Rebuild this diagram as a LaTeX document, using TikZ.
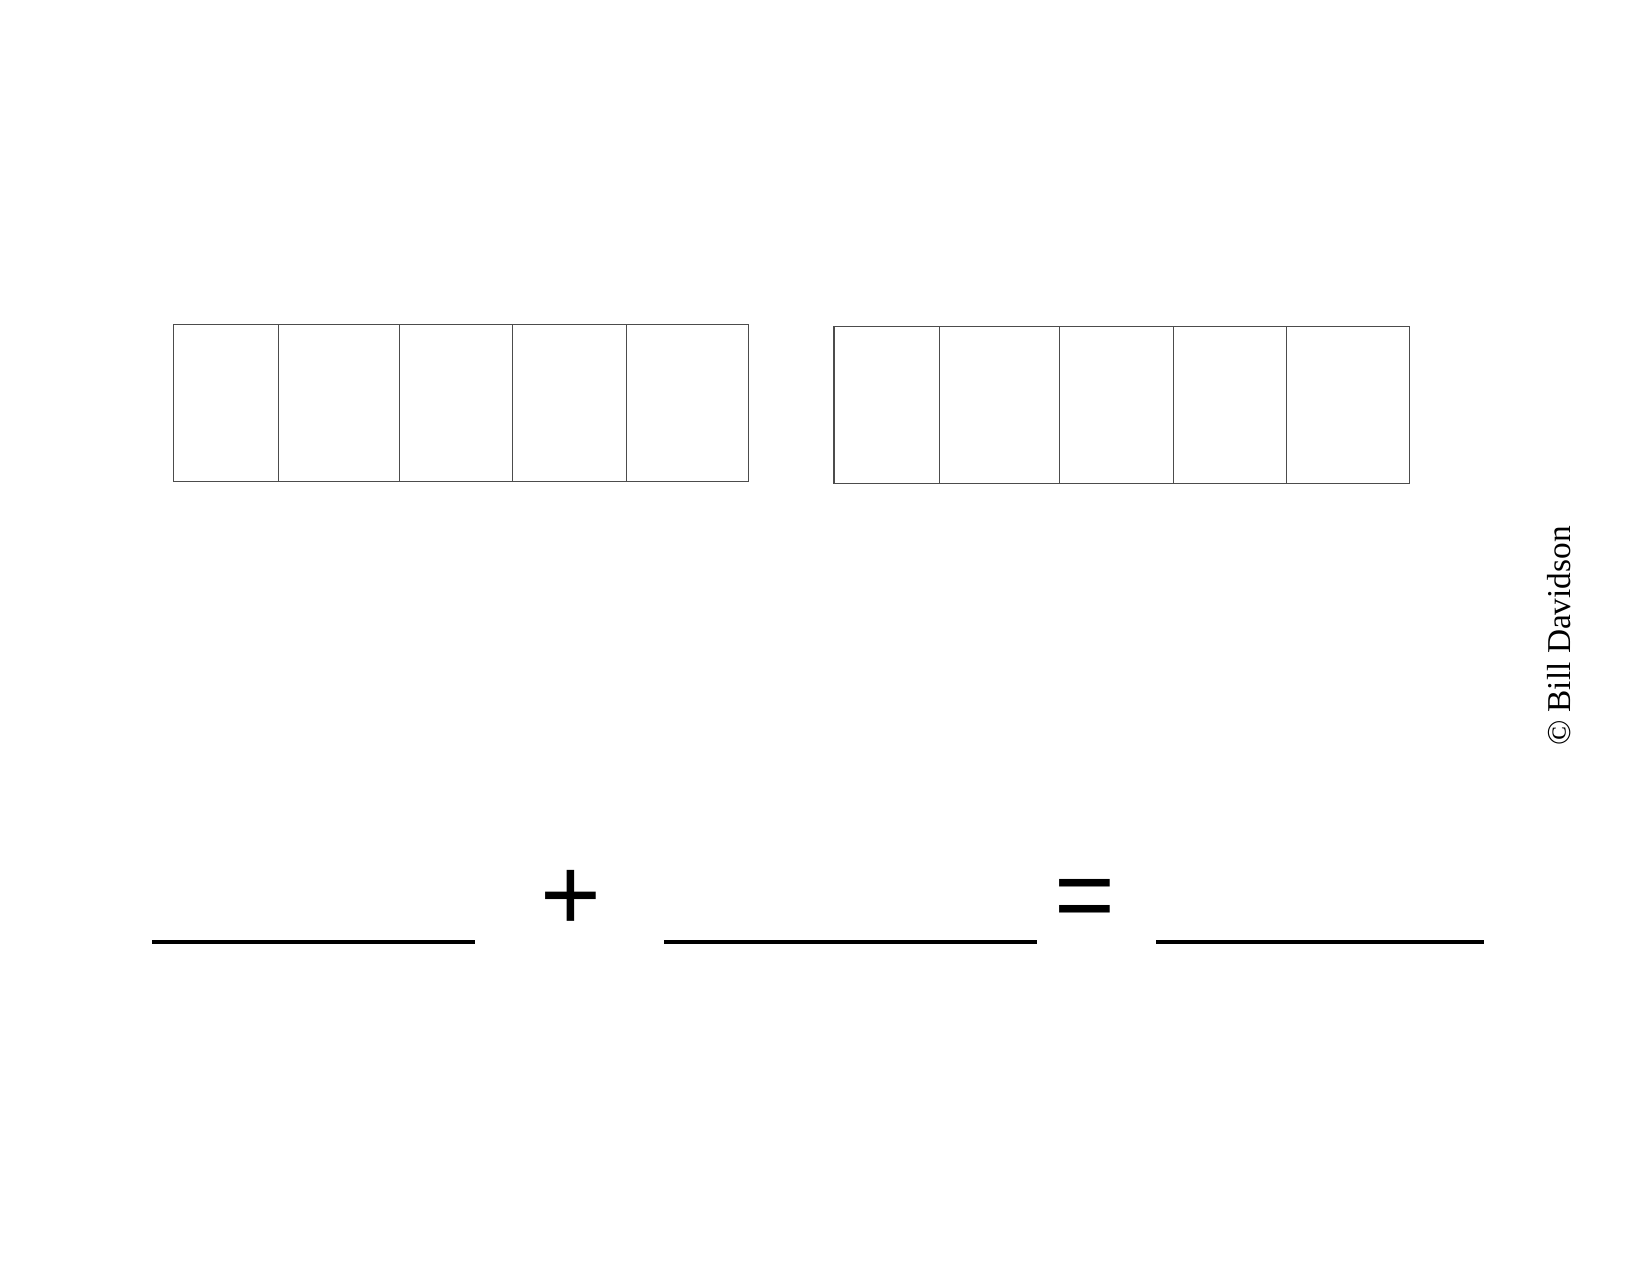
\documentclass[tikz,border=0pt]{standalone}
\usepackage{fontspec}
\setmainfont{Liberation Serif}
\newfontfamily\signfont{Liberation Sans}
\usepackage{tikz}

\begin{document}
\begin{tikzpicture}[x=0.48pt,y=-0.48pt,
    cell/.style={draw=black!70,line width=0.5pt},
    blank/.style={line width=2pt},
    sign/.style={font=\signfont\fontsize{50}{60}\selectfont,inner sep=0pt,anchor=base}]

    \useasboundingbox (0,0) rectangle (1650,1275);
          % The page, in pixels.

    \foreach \a/\b in {173.3/278.4,278.4/399.2,399.2/512.6,512.6/626.1,626.1/748.7}{% Five cells
      \draw[cell] (\a,324.3) rectangle (\b,481.3);
      \draw[cell] (\a+660.7,326.3) rectangle (\b+660.7,483.3);
          % and the same five again on the right
    }

    \coordinate (a1) at (152,942);
    \coordinate (a2) at (475,942);
    \coordinate (b1) at (664,942);
    \coordinate (b2) at (1037,942);
    \coordinate (c1) at (1156,942);
    \coordinate (c2) at (1484,942);
    \draw[blank] (a1) -- (a2);
    \draw[blank] (b1) -- (b2);
    \draw[blank] (c1) -- (c2);

    \node[sign] (plus) at (571,930) {+};
    \node[sign] (equals) at (1085,930) {=};

    \node[rotate=90,font=\fontsize{16}{18}\selectfont] (copy) at (1559,636) {\textcopyright\ Bill Davidson};

\end{tikzpicture}
\end{document}
